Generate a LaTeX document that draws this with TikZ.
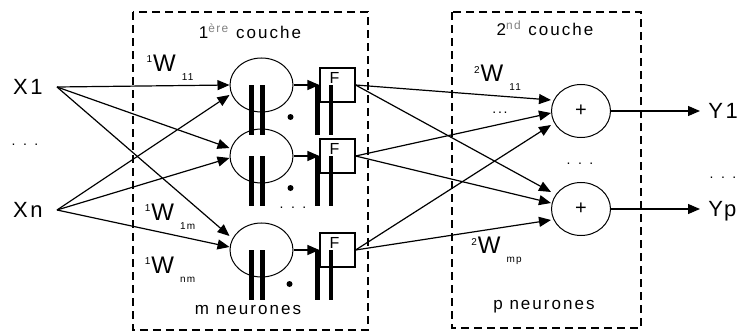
\documentclass[tikz,border=0pt]{standalone}
\usepackage{fontspec}
\setmainfont{Liberation Sans}[LetterSpace=12]
\usetikzlibrary{shapes.geometric, arrows.meta, positioning}
\newcommand{\wlabel}[2]{\textsuperscript{\tiny #1}W\hspace{3pt}\raisebox{-4.5pt}{\tiny #2}}

\begin{document}
\begin{tikzpicture}[
    x=0.5pt, y=-0.5pt,
    neuron/.style={ellipse, draw=black, line width=0.5pt, minimum width=31.5pt, minimum height=27pt, inner sep=0pt},
    outneuron/.style={neuron, minimum width=29.5pt, minimum height=26.5pt, font=\fontsize{10}{12}\selectfont},
    fbox/.style={rectangle, draw=black, line width=0.6pt, minimum width=17.5pt, minimum height=17pt, inner sep=0pt},
    flab/.style={font=\fontsize{8}{8}\selectfont, inner sep=0pt, xshift=-1.5pt, yshift=3.4pt},
    layer/.style={draw=black, line width=0.7pt, dash pattern=on 4pt off 2.5pt},
    txt/.style={font=\fontsize{8.5}{10}\selectfont, inner sep=0pt},
    io/.style={font=\fontsize{11}{13}\selectfont, text depth=0pt},
    wt/.style={font=\fontsize{12}{14}\selectfont, inner sep=0pt},
    dots/.style={font=\scriptsize, inner sep=0pt},
    arrow/.style={-{Triangle[length=6pt, width=5pt]}, line width=0.6pt},
    bar/.style={line width=2.2pt},
    thickbar/.style={line width=2.6pt}
]
    \useasboundingbox (0,0) rectangle (741,332);

    % Layers
    \draw[layer] (133,12) rectangle (368,330);
    \draw[layer] (452,12) rectangle (641,328);
    \node[txt] (t1) at (250,31) {1\textsuperscript{\color{gray}ère} couche};
    \node[txt] (t2) at (545,28) {2\textsuperscript{\color{gray}nd} couche};
    \node[txt] (mneur) at (248,310) {m neurones};
    \node[txt] (pneur) at (544,307) {p neurones};

    % Nodes
    \node[io, anchor=east, inner xsep=7pt] (x1) at (57,87) {X1};
    \node[dots] (xdots) at (25,145) {. . .};
    \node[io, anchor=east, inner xsep=7pt] (xn) at (57,210) {Xn};

    \node[neuron] (n1) at (261.5,85) {};
    \node[neuron] (n2) at (261.5,156) {};
    \node[neuron] (n3) at (261.5,250) {};

    \node[fbox, label={[flab]center:F}] (f1) at (337.5,85) {};
    \node[fbox, label={[flab]center:F}] (f2) at (337.5,156) {};
    \node[fbox, label={[flab]center:F}] (f3) at (337.5,250) {};
    \node[dots] (ndots) at (293,208) {. . .};

    \node[outneuron] (o1) at (581,111) {+};
    \node[outneuron] (o2) at (581,209) {+};
    \node[dots] (odots) at (580,164) {. . .};

    \node[io, anchor=west, inner xsep=4pt] (y1) at (700,111) {Y1};
    \node[dots] (ydots) at (723,178) {. . .};
    \node[io, anchor=west, inner xsep=4pt] (yp) at (700,209) {Yp};

    % Weights
    \node[wt] (w111) at (170,67.5) {\wlabel{1}{11}};
    \node[wt] (w11m) at (170,216.5) {\wlabel{1}{1m}};
    \node[wt] (w1nm) at (170,269.5) {\wlabel{1}{nm}};
    \node[wt] (w211) at (497.5,78) {\wlabel{2}{11}};
    \node[dots] (wdots) at (500,113) {...};
    \node[wt] (w2mp) at (496.5,251) {\wlabel{2}{mp}};

    % Arrows into the first layer
    \draw[arrow] (x1.east) -- (n1.west);
    \draw[arrow] (x1.east) -- ([yshift=4pt]n2.west);
    \draw[arrow] (x1.east) -- ([yshift=7pt]n3.west);
    \draw[arrow] (xn.east) -- ([yshift=-5pt]n1.west);
    \draw[arrow] (xn.east) -- ([yshift=-1pt]n2.west);
    \draw[arrow] (xn.east) -- ([yshift=1.5pt]n3.west);

    % Neurons to F
    \draw[arrow] (n1.east) -- (f1.west);
    \draw[arrow] (n2.east) -- (f2.west);
    \draw[arrow] (n3.east) -- (f3.west);

    % Bars and dots
    \draw[bar] ([xshift=-5pt]n1.center) -- ++(0,50);
    \draw[bar] ([xshift=0.5pt]n1.center) -- ++(0,50);
    \draw[bar] ([xshift=-5pt]n2.center) -- ++(0,50);
    \draw[bar] ([xshift=0.5pt]n2.center) -- ++(0,50);
    \draw[bar] ([xshift=-5pt]n3.center) -- ++(0,50);
    \draw[bar] ([xshift=0.5pt]n3.center) -- ++(0,50);
    \draw[thickbar] ([xshift=-0.8pt]f1.west) -- ++(0,50);
    \draw[bar] ([xshift=-3.25pt]f1.center) -- ++(0,50);
    \draw[thickbar] ([xshift=-0.8pt]f2.west) -- ++(0,50);
    \draw[bar] ([xshift=-3.25pt]f2.center) -- ++(0,50);
    \draw[thickbar] ([xshift=-0.8pt]f3.west) -- ++(0,50);
    \draw[bar] ([xshift=-3.25pt]f3.center) -- ++(0,50);
    \fill ([xshift=14.5pt, yshift=-16pt]n1.center) circle (1.5pt);
    \fill ([xshift=14.5pt, yshift=-16pt]n2.center) circle (1.5pt);
    \fill ([xshift=14pt, yshift=-17pt]n3.center) circle (1.5pt);

    % Arrows into the second layer
    \draw[arrow] (f1.east) -- ([yshift=5.5pt]o1.west);
    \draw[arrow] (f2.east) -- ([yshift=-1pt]o1.west);
    \draw[arrow] (f3.east) -- ([yshift=-7pt]o1.west);
    \draw[arrow] (f1.east) -- ([yshift=8.5pt]o2.west);
    \draw[arrow] (f2.east) -- ([yshift=3pt]o2.west);
    \draw[arrow] (f3.east) -- ([yshift=-5.5pt]o2.west);

    % Outputs
    \draw[arrow] (o1.east) -- (y1.west);
    \draw[arrow] (o2.east) -- (yp.west);
\end{tikzpicture}
\end{document}
